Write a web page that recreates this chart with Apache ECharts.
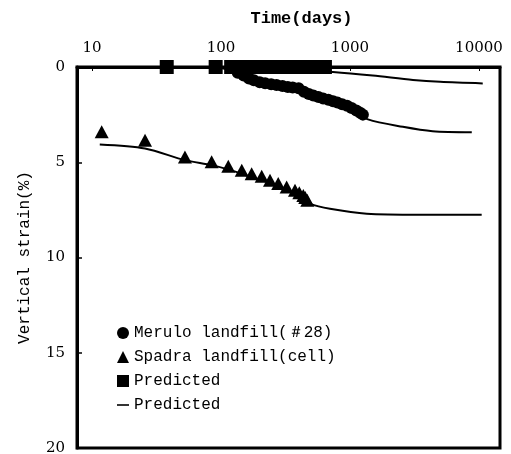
<!DOCTYPE html>
<html>
<head>
<meta charset="utf-8">
<script src="https://cdn.jsdelivr.net/npm/echarts@6/dist/echarts.min.js"></script>
<style>
html,body{margin:0;padding:0;background:#fff;overflow:hidden;}
#chart{width:511px;height:454px;}
</style>
</head>
<body>
<div id="chart"></div>
<script>
// Tick labels
var xTickLabels = ['10', '100', '1000', '10000'];
var yTicks = [0, 5, 10, 15, 20];

// Measured series: [time (days), vertical strain (%)]
var meruloData = [[135,0.3],[150,0.45],[165,0.6],[180,0.7],[200,0.8],[220,0.85],[245,0.9],[270,0.95],[300,1.0],[330,1.05],[360,1.08],[400,1.12],[440,1.3],[480,1.42],[520,1.5],[570,1.58],[620,1.65],[680,1.72],[740,1.8],[800,1.87],[870,1.95],[950,2.03],[1030,2.15],[1120,2.28],[1200,2.4],[1260,2.5]];
var spadraData = [[11.9,3.4],[25.8,3.84],[52.6,4.72],[84.7,4.98],[114,5.21],[145,5.42],[173,5.6],[207,5.74],[240,5.95],[278,6.12],[323,6.3],[375,6.47],[405,6.6],[435,6.74],[450,6.85],[467,7.0]];
var predictedSquares = [[38,0],[91,0],[120,0],[135,0],[150,0],[165,0],[180,0],[200,0],[220,0],[245,0],[270,0],[300,0],[330,0],[365,0],[400,0],[440,0],[480,0],[530,0],[580,0],[640,0]];

// Predicted curves
var predTop = [[100,0],[200,0.05],[400,0.15],[738,0.26],[1500,0.45],[3080,0.68],[5000,0.78],[10700,0.86]];
var predMerulo = [[100,0.05],[150,0.3],[200,0.62],[300,0.98],[450,1.3],[700,1.75],[1000,2.2],[1380,2.75],[2570,3.14],[4370,3.37],[8800,3.42]];
var predSpadra = [[11.5,4.07],[25.8,4.28],[52.6,4.89],[84.7,5.15],[117,5.4],[176,5.8],[243,6.1],[319,6.45],[405,6.8],[490,7.17],[700,7.44],[1350,7.7],[3470,7.75],[10500,7.75]];

var SERIF = '"DejaVu Serif", serif';
var MONO = '"Liberation Mono", monospace';
var chart = echarts.init(document.getElementById('chart'));

function lineSeries(data) {
  return {
    name: 'Predicted', type: 'line', data: data, smooth: 0.3,
    symbol: 'none', itemStyle: {color: '#000'}, lineStyle: {color: '#000', width: 2}, z: 2
  };
}

chart.setOption({
  animation: false,
  backgroundColor: '#fff',
  grid: {left: 77, right: 11, top: 67, bottom: 6, show: true, borderColor: '#000', borderWidth: 3,
         containLabel: false, outerBoundsMode: 'none'},
  xAxis: {
    type: 'log', logBase: 10, position: 'top',
    min: 7.66, max: 14560,
    name: 'Time(days)', nameLocation: 'middle', nameGap: 40,
    nameTextStyle: {fontFamily: MONO, fontSize: 17, fontWeight: 'bold', color: '#000', padding: [0, 0, 0, 26]},
    axisLine: {show: true, lineStyle: {color: '#000', width: 3}},
    axisTick: {show: true, inside: true, length: 4, lineStyle: {color: '#000'}},
    splitLine: {show: false},
    axisLabel: {
      fontFamily: SERIF, fontSize: 15, color: '#000', margin: 11,
      showMinLabel: false, showMaxLabel: false,
      formatter: function (v) {
        var s = String(Math.round(v));
        return (xTickLabels.indexOf(s) >= 0 && Math.abs(v - Math.round(v)) < 1e-6) ? s : '';
      }
    }
  },
  yAxis: {
    type: 'value', inverse: true, min: yTicks[0], max: yTicks[yTicks.length - 1], interval: 5,
    name: 'Vertical strain(%)', nameLocation: 'middle', nameGap: 44, nameRotate: 90,
    nameTextStyle: {fontFamily: MONO, fontSize: 16, color: '#000'},
    axisLine: {show: true, lineStyle: {color: '#000', width: 3}},
    axisTick: {show: true, inside: true, length: 5, lineStyle: {color: '#000', width: 1.5}},
    splitLine: {show: false},
    axisLabel: {fontFamily: SERIF, fontSize: 15, color: '#000', margin: 12}
  },
  legend: {
    orient: 'vertical', left: 112, top: 320, itemGap: 8,
    itemWidth: 12, itemHeight: 12,
    textStyle: {fontFamily: MONO, fontSize: 16, color: '#000'},
    formatter: function (n) { return n.trim(); },
    data: [
      {name: 'Merulo landfill(＃28)', icon: 'circle'},
      {name: 'Spadra landfill(cell)', icon: 'triangle'},
      {name: 'Predicted ', icon: 'rect'},
      {name: 'Predicted', icon: 'path://M0,0 L12,0 L12,1.6 L0,1.6 Z', itemStyle: {color: '#000'}}
    ]
  },
  series: [
    {name: 'Merulo landfill(＃28)', type: 'scatter', data: meruloData, symbol: 'circle', symbolSize: 12,
     itemStyle: {color: '#000', opacity: 1}, z: 3},
    {name: 'Spadra landfill(cell)', type: 'scatter', data: spadraData, symbol: 'triangle', symbolSize: [14, 13],
     itemStyle: {color: '#000', opacity: 1}, z: 3},
    {name: 'Predicted ', type: 'scatter', data: predictedSquares, symbol: 'rect', symbolSize: 14,
     itemStyle: {color: '#000', opacity: 1}, z: 4},
    lineSeries(predTop),
    lineSeries(predMerulo),
    lineSeries(predSpadra)
  ]
});
</script>
</body>
</html>
